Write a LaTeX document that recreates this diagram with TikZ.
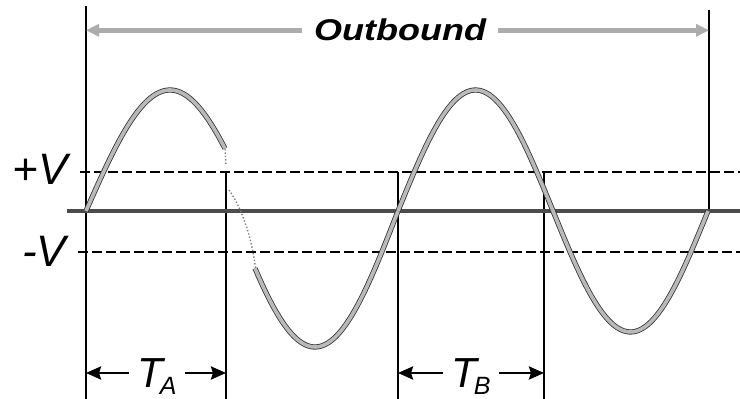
\documentclass[tikz,border=0pt]{standalone}
\usepackage{fontspec}
\setsansfont{Liberation Sans}
\usetikzlibrary{arrows.meta,calc,positioning}
\newcommand\tsub[1]{\kern-1.5pt\raisebox{-3.5pt}{\fontsize{12.5}{12.5}\selectfont #1}}

\begin{document}
\begin{tikzpicture}[x=0.5pt,y=-0.5pt,>=Stealth,
  wave/.style={draw=black!80,line width=0.4pt,double=gray!55,double distance=1.8pt},
  level/.style={dash pattern=on 5pt off 2pt,line width=0.9pt},
  outarrow/.style={-{Triangle[length=6.5pt,width=6pt]},line width=2.5pt,gray!65},
  tarrow/.style={-{Stealth[length=7.5pt,width=6.5pt,inset=1pt]},line width=1.3pt},
  vlbl/.style={font=\sffamily\itshape\fontsize{22}{22}\selectfont,inner sep=0pt},
  tlbl/.style={font=\sffamily\itshape\fontsize{21}{21}\selectfont,inner xsep=4pt,inner ysep=0pt}]
\useasboundingbox (0,0) rectangle (740,399);
% time marks
\foreach \n/\x/\t/\b in {a/86/6/399,b/226/172/399,c/398/172/399,d/544/172/399,e/709/10/211}{
  \coordinate (top\n) at (\x,\t);
  \coordinate (bot\n) at (\x,\b);
  \draw[line width=1pt] (top\n)--(bot\n);
}
% levels
\draw[line width=2.2pt,gray!60!black] (67,211)--(740,211);
\draw[level] (80,172)--(740,172);
\draw[level] (78,252)--(740,252);
% signal
\draw[wave] plot[domain=86:225,samples=60] (\x,{211-121*sin((\x-86)/84*90)});
\draw[gray,densely dotted,line width=0.7pt] (225,149)--(226,166);
\draw[gray,densely dotted,line width=0.7pt] (229,190) .. controls (240,205) and (252,235) .. (256,272);
\draw[wave] plot[domain=255:398,samples=60] (\x,{211+136*cos((\x-315)/83*90)});
\draw[wave] plot[domain=398:708,samples=100] (\x,{211-121*sin((\x-398)/310*360)});
% labels
\node[vlbl,anchor=base] (pv) at (40,185) {+V};
\node[vlbl,anchor=base] (mv) at (44,267) {-V};
\node[font=\sffamily\bfseries\itshape\fontsize{15}{15}\selectfont,xscale=1.2,anchor=base,inner xsep=5pt] (out) at (400,41) {Outbound};
\draw[outarrow] (out.west) -- (out.west -| topa);
\draw[outarrow] (out.east) -- (out.east -| tope);
\coordinate (ya) at (0,373);
\node[tlbl,anchor=base] (ta) at (157,388) {T\tsub{A}};
\node[tlbl,anchor=base] (tb) at (471,388) {T\tsub{B}};
\draw[tarrow] (ta.west |- ya) -- (bota |- ya);
\draw[tarrow] (ta.east |- ya) -- (botb |- ya);
\draw[tarrow] (tb.west |- ya) -- (botc |- ya);
\draw[tarrow] (tb.east |- ya) -- (botd |- ya);
\end{tikzpicture}
\end{document}
